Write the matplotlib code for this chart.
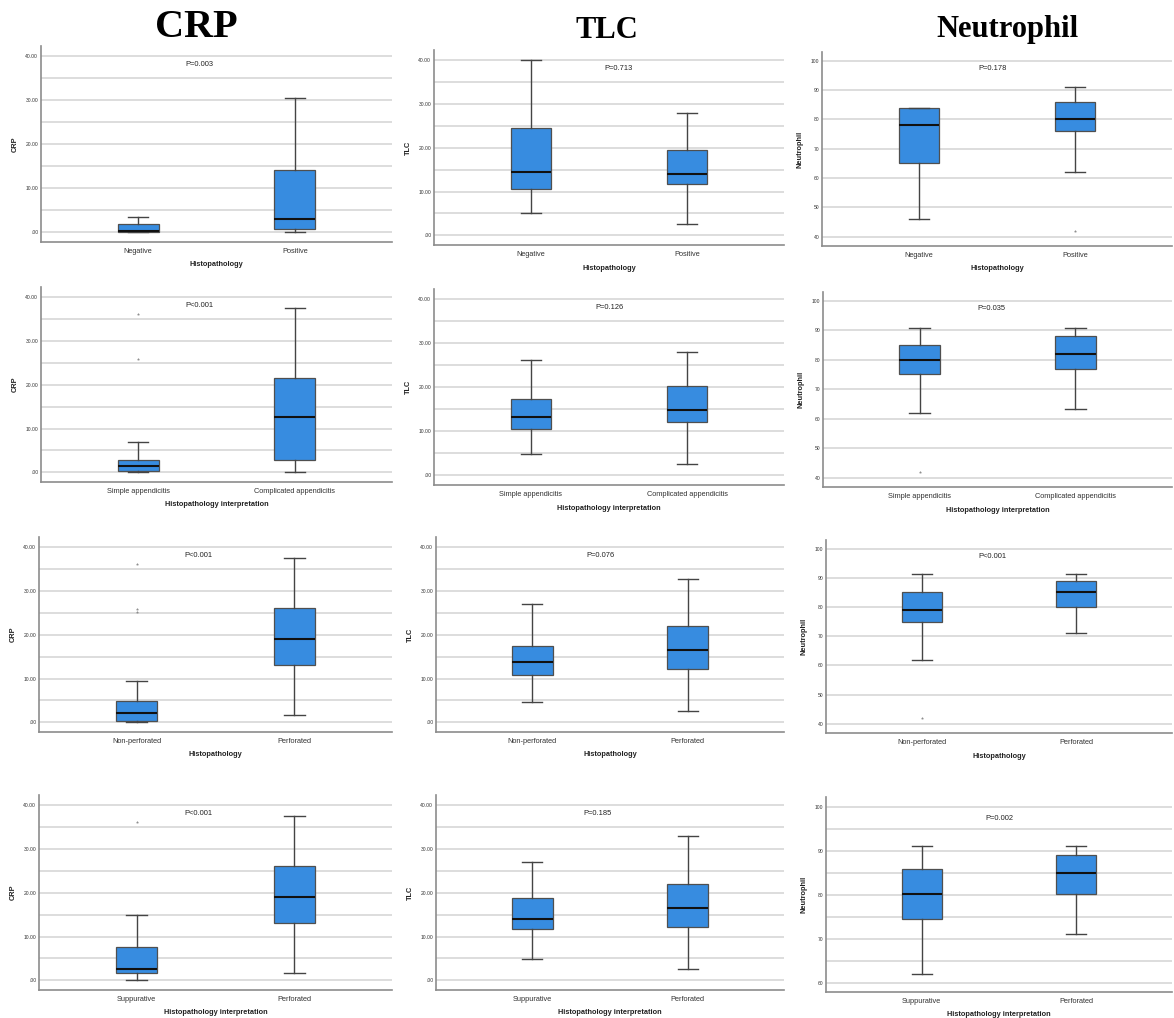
import matplotlib
matplotlib.use('Agg')
import matplotlib.pyplot as plt
from matplotlib.ticker import MultipleLocator, FuncFormatter

plt.rcParams['font.family'] = ['Liberation Sans', 'DejaVu Sans']

# box statistics per group: [lower whisker, Q1, median, Q3, upper whisker]
# row 1: Histopathology negative / positive
crp_hist = [[0.0, 0.0, 0.2, 2.0, 3.5], [0.1, 0.7, 3.0, 14.1, 30.5]]
tlc_hist = [[5.2, 10.6, 14.4, 24.4, 40.0], [2.6, 11.8, 14.0, 19.5, 28.0]]
neu_hist = [[46.1, 65.1, 78.0, 84.0, 84.0], [62.0, 76.1, 80.1, 85.9, 91.0]]
crp_hist_out = [[], []]
tlc_hist_out = [[], []]
neu_hist_out = [[], [42.0]]

# row 2: simple / complicated appendicitis
crp_simple = [[0.0, 0.2, 1.4, 2.9, 6.9], [0.0, 2.9, 12.6, 21.6, 37.5]]
tlc_simple = [[4.8, 10.5, 13.3, 17.4, 26.1], [2.6, 12.2, 14.8, 20.3, 28.0]]
neu_simple = [[62.0, 75.0, 80.0, 85.1, 90.9], [63.2, 77.0, 82.0, 88.1, 90.9]]
crp_simple_out = [[25.9, 36.1], []]
tlc_simple_out = [[], []]
neu_simple_out = [[42.0], []]

# row 3: non-perforated / perforated
crp_perf = [[0.0, 0.2, 2.05, 4.9, 9.35], [1.7, 13.0, 19.0, 26.1, 37.5]]
tlc_perf = [[4.7, 10.7, 13.7, 17.4, 26.9], [2.5, 12.1, 16.5, 21.9, 32.8]]
neu_perf = [[61.9, 75.0, 79.1, 85.0, 91.2], [71.0, 80.0, 85.0, 89.1, 91.2]]
crp_perf_out = [[25.1, 25.9, 36.1], []]
tlc_perf_out = [[], []]
neu_perf_out = [[41.9], []]

# row 4: suppurative / perforated
crp_supp = [[0.0, 1.75, 2.65, 7.7, 14.95], [1.75, 13.0, 19.05, 26.0, 37.6]]
tlc_supp = [[4.8, 11.8, 14.0, 18.75, 27.1], [2.5, 12.2, 16.5, 21.9, 32.9]]
neu_supp = [[62.0, 74.6, 80.1, 86.0, 91.1], [71.0, 80.1, 85.1, 89.1, 91.1]]
crp_supp_out = [[36.05], []]
tlc_supp_out = [[], []]
neu_supp_out = [[], []]

row_groups = [['Negative', 'Positive'],
              ['Simple appendicitis', 'Complicated appendicitis'],
              ['Non-perforated', 'Perforated'],
              ['Suppurative', 'Perforated']]
row_xlabels = ['Histopathology', 'Histopathology interpretation',
               'Histopathology', 'Histopathology interpretation']
col_titles = ['CRP', 'TLC', 'Neutrophil']
col_ylabels = ['CRP', 'TLC', 'Neutrophil']
p_values = [['P=0.003', 'P=0.713', 'P=0.178'],
            ['P<0.001', 'P=0.126', 'P=0.035'],
            ['P<0.001', 'P=0.076', 'P<0.001'],
            ['P<0.001', 'P=0.185', 'P=0.002']]

stats = [[crp_hist, tlc_hist, neu_hist],
         [crp_simple, tlc_simple, neu_simple],
         [crp_perf, tlc_perf, neu_perf],
         [crp_supp, tlc_supp, neu_supp]]
outliers = [[crp_hist_out, tlc_hist_out, neu_hist_out],
            [crp_simple_out, tlc_simple_out, neu_simple_out],
            [crp_perf_out, tlc_perf_out, neu_perf_out],
            [crp_supp_out, tlc_supp_out, neu_supp_out]]

# panel frames in pixels: (left, right, top, bottom)
frames = [[(41, 392, 46, 242), (434, 784, 50, 245), (822, 1172, 52, 246)],
          [(41, 392, 287, 482), (434, 784, 289, 485), (823, 1172, 292, 487)],
          [(39, 392, 537, 732), (436, 784, 537, 732), (826, 1172, 540, 733)],
          [(39, 392, 795, 990), (436, 784, 795, 990), (826, 1172, 797, 992)]]
p_x = [[0.39, 0.56, 0.47], [0.39, 0.50, 0.46], [0.39, 0.44, 0.46], [0.39, 0.42, 0.50]]

W, H = 1174, 1018
BLUE = '#378ce0'
fig = plt.figure(figsize=(W / 100, H / 100), dpi=100)


def fmt_crp(v, pos):
    return '.00' if abs(v) < 1e-9 else '%.2f' % v


def fmt_neu(v, pos):
    return '%d' % v


for r in range(4):
    for c in range(3):
        left, right, top, bottom = frames[r][c]
        ax = fig.add_axes([left / W, 1 - bottom / H, (right - left) / W, (bottom - top) / H])

        boxes = []
        for s, f, g in zip(stats[r][c], outliers[r][c], row_groups[r]):
            boxes.append(dict(whislo=s[0], q1=s[1], med=s[2], q3=s[3], whishi=s[4],
                              fliers=f, label=g))
        ax.bxp(boxes, positions=[0, 1], widths=0.26, patch_artist=True,
               boxprops=dict(facecolor=BLUE, edgecolor='#4f4f4f', linewidth=0.9),
               medianprops=dict(color='#111111', linewidth=1.5),
               whiskerprops=dict(color='#444444', linewidth=1.0),
               capprops=dict(color='#444444', linewidth=1.0),
               flierprops=dict(marker='*', markersize=1.6, markerfacecolor='#8a8a8a',
                               markeredgecolor='#8a8a8a', markeredgewidth=0.3))

        ax.set_xlim(-0.62, 1.62)
        if c < 2:
            ax.set_ylim(-2.2, 42.3)
            ax.yaxis.set_major_locator(MultipleLocator(10))
            ax.yaxis.set_minor_locator(MultipleLocator(5))
            ax.yaxis.set_major_formatter(FuncFormatter(fmt_crp))
            py = 38.0
        else:
            if r == 3:
                ax.set_ylim(57.9, 102.3)
                ax.yaxis.set_minor_locator(MultipleLocator(5))
            else:
                ax.set_ylim(36.8, 103.0)
            ax.yaxis.set_major_locator(MultipleLocator(10))
            ax.yaxis.set_major_formatter(FuncFormatter(fmt_neu))
            py = 97.5

        ax.set_axisbelow(True)
        ax.grid(axis='y', which='both', color='#d3d3d3', linewidth=1.1)
        ax.grid(axis='x', visible=False)
        ax.tick_params(axis='both', which='both', length=0)
        ax.tick_params(axis='y', labelsize=3.6, pad=2, labelcolor='#333333')
        ax.tick_params(axis='x', labelsize=5.3, pad=4, labelcolor='#333333')

        for side in ['top', 'right']:
            ax.spines[side].set_visible(False)
        for side in ['left', 'bottom']:
            ax.spines[side].set_color('#8c8c8c')
            ax.spines[side].set_linewidth(1.2)

        ax.set_xlabel(row_xlabels[r], fontsize=5.3, fontweight='bold', labelpad=5, color='#222222')
        ax.set_ylabel(col_ylabels[c], fontsize=5.3, fontweight='bold', labelpad=5, color='#222222')
        ax.text(p_x[r][c], py, p_values[r][c], ha='center', va='center', fontsize=5.4,
                color='#222222')

# column headings, placed on their baselines
title_pos = [(196, 37, 29), (607, 38, 22), (1007, 37, 22)]
for t, (x, y, size) in zip(col_titles, title_pos):
    fig.text(x / W, 1 - y / H, t, ha='center', va='baseline', fontsize=size,
             fontweight='bold', family=['Liberation Serif', 'DejaVu Serif'])

fig.savefig('out.png', dpi=100)
